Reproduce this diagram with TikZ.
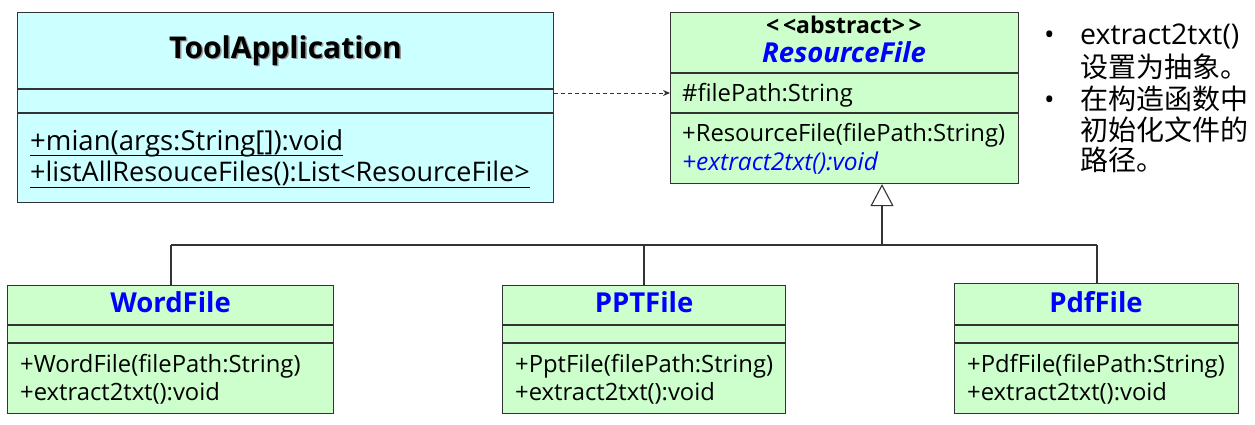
\documentclass[tikz,border=0pt]{standalone}
\usepackage{fontspec}
\setmainfont{Open Sans}
\newfontfamily\cjk{Noto Sans CJK SC}
\usetikzlibrary{arrows.meta}
\definecolor{cyanbg}{HTML}{CCFFFF}
\definecolor{greenbg}{HTML}{CCFFCC}
\definecolor{umlblue}{HTML}{0000FF}
\definecolor{edge}{HTML}{333333}
\tikzset{
  umlbox/.style={draw=edge, line width=1.1pt, anchor=north west, inner sep=0pt},
  divider/.style={draw=edge, line width=1.1pt},
  member/.style={anchor=base west, inner sep=0pt, font=\fontsize{23.8}{26}\selectfont},
  cname/.style={anchor=base, inner sep=0pt, font=\fontsize{27.5}{30}\selectfont\bfseries, text=umlblue},
  note/.style={anchor=base west, inner sep=0pt, font=\fontsize{28}{30}\selectfont},
  cjknote/.style={anchor=base west, inner sep=0pt, font=\fontsize{28}{30}\selectfont\cjk},
  conn/.style={draw=edge, line width=1.1pt},
  uline/.style={draw=black, line width=1pt},
}
\begin{document}
\begin{tikzpicture}[x=1pt,y=-1pt]
\useasboundingbox (0,0) rectangle (1255,424);
% ToolApplication
\node[umlbox, fill=cyanbg, minimum width=536pt, minimum height=190pt] (tool) at (17,12) {};
\draw[divider] (tool.west |- 0,89) -- (tool.east |- 0,89);
\draw[divider] (tool.west |- 0,113) -- (tool.east |- 0,113);
\node[anchor=base, inner sep=0pt, font=\fontsize{30}{34}\selectfont\bfseries, text=black!40] (toolshadow) at (287,59.5) {ToolApplication};
\node[anchor=base, inner sep=0pt, font=\fontsize{30}{34}\selectfont\bfseries] (toolname) at (285.5,58) {ToolApplication};
\node[member, font=\fontsize{27.5}{30}\selectfont] (tm1) at (30,150) {+mian(args:String[]):void};
\node[member, font=\fontsize{27}{30}\selectfont] (tm2) at (30,181) {+listAllResouceFiles():List{<}ResourceFile{>}};
\draw[uline] ([yshift=-5pt]tm1.base west) -- ([yshift=-5pt]tm1.base east);
\draw[uline] ([yshift=-6pt]tm2.base west) -- ([yshift=-6pt]tm2.base east);
% ResourceFile
\node[umlbox, fill=greenbg, minimum width=348pt, minimum height=171pt] (rf) at (670,12) {};
\draw[divider] (rf.west |- 0,73) -- (rf.east |- 0,73);
\draw[divider] (rf.west |- 0,113) -- (rf.east |- 0,113);
\node[anchor=base, inner sep=0pt, font=\fontsize{23}{26}\selectfont\bfseries] (stereo) at (844,33) {{<}\,{<}abstract{>}\,{>}};
\node[anchor=base, inner sep=0pt, font=\fontsize{27.5}{30}\selectfont\bfseries\itshape, text=umlblue] (rfname) at (844,62) {ResourceFile};
\node[member] (rfa) at (682,101) {\#filePath:String};
\node[member] (rfm1) at (682,141) {+ResourceFile(filePath:String)};
\node[member, font=\fontsize{24.5}{26}\selectfont\itshape, text=umlblue] (rfm2) at (682,170) {+extract2txt():void};
% Note
\node[note] (b1) at (1044,44) {•};
\node[note, font=\fontsize{28.5}{30}\selectfont] (n1) at (1080,44) {extract2txt()};
\node[cjknote] (n2) at (1080,77) {设置为抽象。};
\node[note] (b2) at (1044,109) {•};
\node[cjknote] (n3) at (1080,109) {在构造函数中};
\node[cjknote] (n4) at (1080,140) {初始化文件的};
\node[cjknote] (n5) at (1080,170) {路径。};
% Subclasses
\node[umlbox, fill=greenbg, minimum width=326pt, minimum height=128pt] (word) at (7,285) {};
\draw[divider] (word.west |- 0,325) -- (word.east |- 0,325);
\draw[divider] (word.west |- 0,343) -- (word.east |- 0,343);
\node[cname] (wordname) at (word.north |- 0,312) {WordFile};
\node[member] (wm1) at (20,372) {+WordFile(filePath:String)};
\node[member] (wm2) at (20,400) {+extract2txt():void};

\node[umlbox, fill=greenbg, minimum width=283pt, minimum height=128pt] (ppt) at (502,285) {};
\draw[divider] (ppt.west |- 0,325) -- (ppt.east |- 0,325);
\draw[divider] (ppt.west |- 0,343) -- (ppt.east |- 0,343);
\node[cname] (pptname) at (ppt.north |- 0,312) {PPTFile};
\node[member] (pm1) at (515,372) {+PptFile(filePath:String)};
\node[member] (pm2) at (515,400) {+extract2txt():void};

\node[umlbox, fill=greenbg, minimum width=284pt, minimum height=130pt] (pdf) at (954,283) {};
\draw[divider] (pdf.west |- 0,325) -- (pdf.east |- 0,325);
\draw[divider] (pdf.west |- 0,343) -- (pdf.east |- 0,343);
\node[cname] (pdfname) at (1096,312) {PdfFile};
\node[member] (dm1) at (967,372) {+PdfFile(filePath:String)};
\node[member] (dm2) at (967,400) {+extract2txt():void};
% Connectors
\coordinate (jw) at (171,245);
\coordinate (jp) at (644,245);
\coordinate (jr) at (882,245);
\coordinate (jd) at (1097,245);
\draw[conn] (jw) -- (jw |- word.north);
\draw[conn] (jp) -- (jp |- ppt.north);
\draw[conn] (jd) -- (jd |- pdf.north);
\draw[conn] (jw) -- (jd);
\draw[conn, -{Triangle[open, fill=white, length=22pt, width=23pt, line width=1.1pt]}] (jr) -- (jr |- rf.south);
\draw[conn, line width=0.9pt, dashed, dash pattern=on 4pt off 3pt, -{Stealth[length=7pt, width=6pt]}] (tool.east |- 0,93) -- (rf.west |- 0,93);
\end{tikzpicture}
\end{document}
